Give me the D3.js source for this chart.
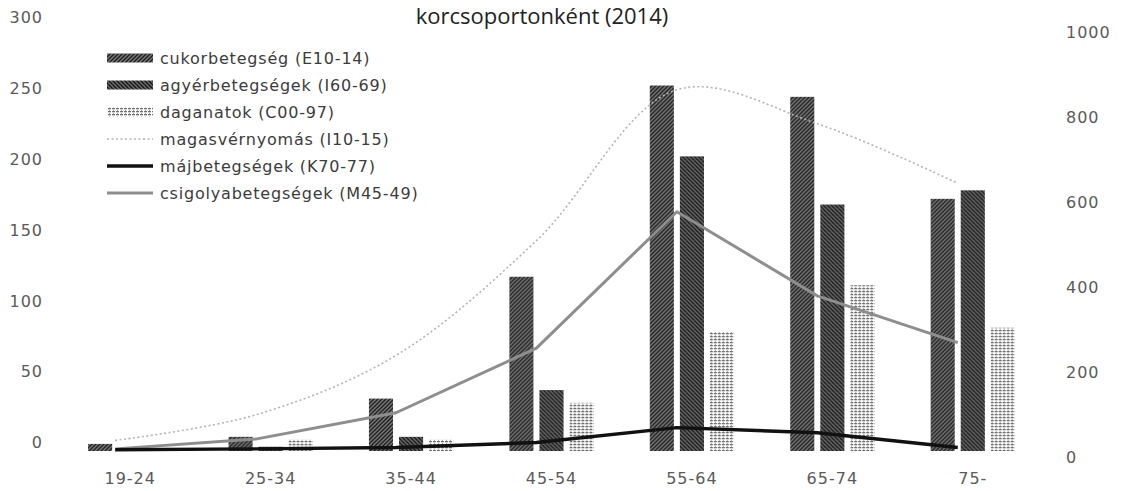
<!DOCTYPE html>
<html lang="hu">
<head>
<meta charset="utf-8">
<script src="https://cdn.jsdelivr.net/npm/d3@7"></script>
<style>
  html, body { margin: 0; padding: 0; background: #fff; }
  svg { display: block; }
  .tick text { font-family: "DejaVu Sans", sans-serif; font-size: 16px; fill: #5a5a5a; letter-spacing: 1px; }
  .legend text { font-family: "DejaVu Sans", sans-serif; font-size: 16px; fill: #3c3c3c; letter-spacing: 0.8px; }
  .title { font-family: "Open Sans", sans-serif; font-size: 22px; fill: #222; }
</style>
</head>
<body>
<svg id="chart" width="1123" height="491"></svg>
<script>
// Age groups
const categories = ["19-24", "25-34", "35-44", "45-54", "55-64", "65-74", "75-"];

// Bar series (left axis)
const cukor    = [5, 10, 37, 123, 258, 250, 178];
const agyer    = [1, 3, 10, 43, 208, 174, 184];
const daganat  = [1, 8, 8, 34, 84, 117, 87];

// Line series (right axis)
const magas    = [25, 85, 225, 495, 850, 770, 630];
const maj      = [3, 5, 8, 20, 55, 43, 8];
const csigolya = [5, 28, 90, 242, 563, 365, 255];

// Tick labels
const leftTicks  = [0, 50, 100, 150, 200, 250, 300];
const rightTicks = [0, 200, 400, 600, 800, 1000];

const barNames  = ["cukorbetegség (E10-14)", "agyérbetegségek (I60-69)", "daganatok (C00-97)"];
const lineNames = ["magasvérnyomás (I10-15)", "májbetegségek (K70-77)", "csigolyabetegségek (M45-49)"];
const titleText = "korcsoportonként (2014)";

const svg = d3.select("#chart");
const baseY = 451, topY = 26;

// Hatched fills for the bars
const defs = svg.append("defs");
function hatch(id, w, h, bg, draw) {
  const p = defs.append("pattern").attr("id", id)
    .attr("patternUnits", "userSpaceOnUse").attr("width", w).attr("height", h);
  p.append("rect").attr("width", w).attr("height", h).attr("fill", bg);
  draw(p);
}
hatch("pCukor", 4, 4, "#7a7a7a", p => p.append("path")
  .attr("d", "M0,4 L4,0 M-1,1 L1,-1 M3,5 L5,3")
  .attr("stroke", "#1e1e1e").attr("stroke-width", 1.4));
hatch("pAgyer", 4, 4, "#6c6c6c", p => {
  p.append("path").attr("d", "M0,0 L4,4 M-1,3 L1,5 M3,-1 L5,1")
    .attr("stroke", "#161616").attr("stroke-width", 1.4);
  p.append("rect").attr("x", 0).attr("y", 0).attr("width", 1).attr("height", 1).attr("fill", "#2a2a2a");
});
hatch("pDag", 4, 3, "#ffffff", p => {
  p.append("rect").attr("x", 0).attr("y", 0).attr("width", 3).attr("height", 1.3).attr("fill", "#6e6e6e");
  p.append("rect").attr("x", 1).attr("y", 2).attr("width", 1).attr("height", 1).attr("fill", "#a8a8a8");
});
const barFills = ["url(#pCukor)", "url(#pAgyer)", "url(#pDag)"];

// Scales
const x0 = d3.scaleBand().domain(categories).range([60, 1043])
  .paddingInner(0.4).paddingOuter(0.2);
const x1 = d3.scaleBand().domain(barNames).range([0, x0.bandwidth()]).paddingInner(0.2);
const yL = d3.scaleLinear().domain([0, 300]).range([baseY, topY]);
const yR = d3.scaleLinear().domain([0, 1000]).range([baseY, topY]);

// Title
svg.append("text").attr("class", "title")
  .attr("x", 542).attr("y", 24).attr("text-anchor", "middle").text(titleText);

// Axes (labels only)
const gL = svg.append("g").attr("transform", "translate(43,0)")
  .call(d3.axisLeft(yL).tickValues(leftTicks).tickSize(0).tickPadding(0).tickFormat(d3.format("d")));
gL.select(".domain").remove();
gL.selectAll(".tick text").attr("dy", "-0.2em");

const gR = svg.append("g").attr("transform", "translate(1066,0)")
  .call(d3.axisRight(yR).tickValues(rightTicks).tickSize(0).tickPadding(0).tickFormat(d3.format("d")));
gR.select(".domain").remove();
gR.selectAll(".tick text").attr("dy", "0.7em");

const gX = svg.append("g").attr("transform", `translate(0,${baseY})`)
  .call(d3.axisBottom(x0).tickSize(0).tickPadding(22));
gX.select(".domain").remove();

// Bars
const barSeries = [cukor, agyer, daganat];
const rows = categories.map((c, i) => ({ c, vals: barSeries.map((s, k) => ({ name: barNames[k], v: s[i], k })) }));
const groups = svg.append("g").selectAll("g").data(rows).join("g")
  .attr("transform", d => `translate(${x0(d.c)},0)`);
groups.selectAll("rect").data(d => d.vals).join("rect")
  .attr("x", d => x1(d.name))
  .attr("width", x1.bandwidth())
  .attr("y", d => yL(d.v))
  .attr("height", d => yL(0) - yL(d.v))
  .attr("fill", d => barFills[d.k]);

// Lines sit between the first and second bar of each group
const lineX = c => x0(c) + x1(barNames[1]) - x1.step() * x1.paddingInner() / 2;
const lineStyles = [
  { data: magas,    stroke: "#b4b4b4", width: 1.6, dash: "2,2.5", curve: d3.curveCatmullRom.alpha(0.5) },
  { data: csigolya, stroke: "#8e8e8e", width: 3,   dash: null,    curve: d3.curveLinear },
  { data: maj,      stroke: "#111111", width: 3.5, dash: null,    curve: d3.curveLinear }
];
lineStyles.forEach(s => {
  const line = d3.line().x((d, i) => lineX(categories[i])).y(d => yR(d)).curve(s.curve);
  svg.append("path").datum(s.data)
    .attr("d", line).attr("fill", "none")
    .attr("stroke", s.stroke).attr("stroke-width", s.width)
    .attr("stroke-dasharray", s.dash)
    .attr("stroke-linejoin", "round");
});

// Legend
const lg = svg.append("g").attr("class", "legend");
const legendItems = [
  ...barNames.map((n, k) => ({ n, type: "bar", fill: barFills[k] })),
  ...lineNames.map((n, k) => ({ n, type: "line", s: [lineStyles[0], lineStyles[2], lineStyles[1]][k] }))
];
legendItems.forEach((it, i) => {
  const cy = 58 + i * 27;
  if (it.type === "bar") {
    lg.append("rect").attr("x", 107).attr("y", cy - 4.5).attr("width", 46).attr("height", 9).attr("fill", it.fill);
  } else {
    lg.append("line").attr("x1", 107).attr("x2", 153).attr("y1", cy).attr("y2", cy)
      .attr("stroke", it.s.stroke).attr("stroke-width", it.s.width)
      .attr("stroke-dasharray", it.s.dash);
  }
  lg.append("text").attr("x", 160).attr("y", cy).attr("dy", "0.35em").text(it.n);
});
</script>
</body>
</html>
